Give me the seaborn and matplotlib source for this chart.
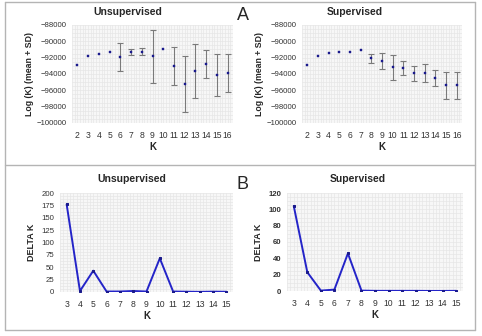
import numpy as np
import pandas as pd
import matplotlib
matplotlib.use("Agg")
import matplotlib.pyplot as plt
from matplotlib.lines import Line2D
from matplotlib.ticker import MultipleLocator
import seaborn as sns

sns.set_theme(style="white")
plt.rcParams['font.family'] = ['Liberation Sans', 'DejaVu Sans']

# ---- data ----
k_log = list(range(2, 17))
unsup_mean = [-92950, -91800, -91550, -91250, -91900, -91300, -91250, -91850,
              -90900, -93050, -95250, -93650, -92750, -94150, -93900]
unsup_sd = [0, 0, 0, 0, 1750, 400, 450, 3250, 0, 2300, 3450, 3300, 1720, 2560, 2340]
sup_mean = [-92950, -91800, -91400, -91300, -91250, -91050, -92050, -92400,
            -93200, -93300, -93900, -93900, -94450, -95400, -95400]
sup_sd = [0, 0, 0, 0, 0, 0, 550, 1030, 1480, 850, 900, 1130, 1000, 1640, 1680]

k_delta = list(range(3, 16))
unsup_delta = [177, 2, 43, 1, 1, 2, 1, 68, 1, 0.6, 0.3, 0.7, 0.5]
sup_delta = [104, 23, 0.5, 1.7, 46, 0.5, 0.2, 0.2, 0.2, 0.2, 0.1, 0.1, 0.2]

titles = ["Unsupervised", "Supervised"]

W, H = 482, 336
fig = plt.figure(figsize=(W / 100, H / 100), dpi=100)
fig.patch.set_facecolor("white")


def add_ax(x0, y0, x1, y1):
    return fig.add_axes([x0 / W, 1 - y1 / H, (x1 - x0) / W, (y1 - y0) / H])


def style(ax, xs, ylim, ymajor, yminor, ybold):
    ax.set_facecolor("#f7f7f7")
    ax.set_xlim(xs[0] - 0.5, xs[-1] + 0.5)
    ax.set_ylim(*ylim)
    ax.set_xticks(xs)
    ax.set_xticklabels([str(x) for x in xs])
    ax.yaxis.set_major_locator(MultipleLocator(ymajor))
    ax.yaxis.set_minor_locator(MultipleLocator(yminor))
    ax.xaxis.set_minor_locator(MultipleLocator(0.25))
    ax.grid(True, which="both", color="#e6e6e6", linewidth=0.5)
    ax.set_axisbelow(True)
    for s in ax.spines.values():
        s.set_visible(False)
    ax.tick_params(axis="both", which="both", length=0)
    ax.tick_params(axis="x", labelsize=6.2, pad=6, colors="#333333")
    ax.tick_params(axis="y", labelsize=5.6, pad=4, colors="#333333")
    if ybold:
        for t in ax.get_yticklabels():
            t.set_fontweight("bold")


# ---- top panels ----
top_boxes = [(72, 25, 233, 123), (302, 25, 462, 123)]
for i, (m, sd) in enumerate([(unsup_mean, unsup_sd), (sup_mean, sup_sd)]):
    ax = add_ax(*top_boxes[i])
    df = pd.DataFrame({"K": k_log, "mean": m, "sd": sd})
    eb = df[df["sd"] > 0]
    ax.errorbar(eb["K"], eb["mean"], yerr=eb["sd"], fmt="none",
                ecolor="#7a7a7a", elinewidth=0.8, capsize=2.2, capthick=0.8, zorder=2)
    sns.scatterplot(data=df, x="K", y="mean", ax=ax, marker="s", s=3,
                    color="#1a1a8c", edgecolor="#1a1a8c", linewidth=0.3, zorder=3)
    style(ax, k_log, (-100000, -88000), 2000, 500, False)
    ax.set_xlabel("K", fontsize=7, fontweight="bold", labelpad=1)
    ax.set_ylabel("Log (K) (mean + SD)", fontsize=6.3, fontweight="bold", labelpad=1.5)

# ---- bottom panels ----
bot_boxes = [(60, 193, 233, 292), (287, 193, 463, 291)]
ylims = [(0, 200), (0, 120)]
majors = [25, 20]
minors = [6.25, 5]
for i, d in enumerate([unsup_delta, sup_delta]):
    ax = add_ax(*bot_boxes[i])
    df = pd.DataFrame({"K": k_delta, "delta": d})
    sns.lineplot(data=df, x="K", y="delta", ax=ax, color="#2424c8", linewidth=1.4,
                 marker="s", markersize=2, markeredgecolor="#1a1a8c",
                 markerfacecolor="#1a1a8c", zorder=3)
    style(ax, k_delta, ylims[i], majors[i], minors[i], i == 1)
    ax.set_xlabel("K", fontsize=7, fontweight="bold", labelpad=1)
    ax.set_ylabel("DELTA K", fontsize=6.5, fontweight="bold", labelpad=4)

# ---- titles ----
fig.text(128 / W, 1 - 12 / H, titles[0], ha="center", va="center", fontsize=7.5, fontweight="bold")
fig.text(355 / W, 1 - 12 / H, titles[1], ha="center", va="center", fontsize=7.5, fontweight="bold")
fig.text(132 / W, 1 - 179 / H, titles[0], ha="center", va="center", fontsize=7.5, fontweight="bold")
fig.text(358 / W, 1 - 179 / H, titles[1], ha="center", va="center", fontsize=7.5, fontweight="bold")
fig.text(243 / W, 1 - 16 / H, "A", ha="center", va="center", fontsize=13)
fig.text(242 / W, 1 - 184 / H, "B", ha="center", va="center", fontsize=13)

# ---- frame ----
fc = "#b4b4b4"
def fline(xs, ys):
    fig.add_artist(Line2D([x / W for x in xs], [1 - y / H for y in ys],
                          transform=fig.transFigure, color=fc, linewidth=1.0))
fline([5, 475], [2, 2])
fline([5, 475], [330, 330])
fline([5, 475], [165, 165])
fline([5, 5], [2, 330])
fline([475, 475], [2, 330])

fig.savefig("out.png", dpi=100)
